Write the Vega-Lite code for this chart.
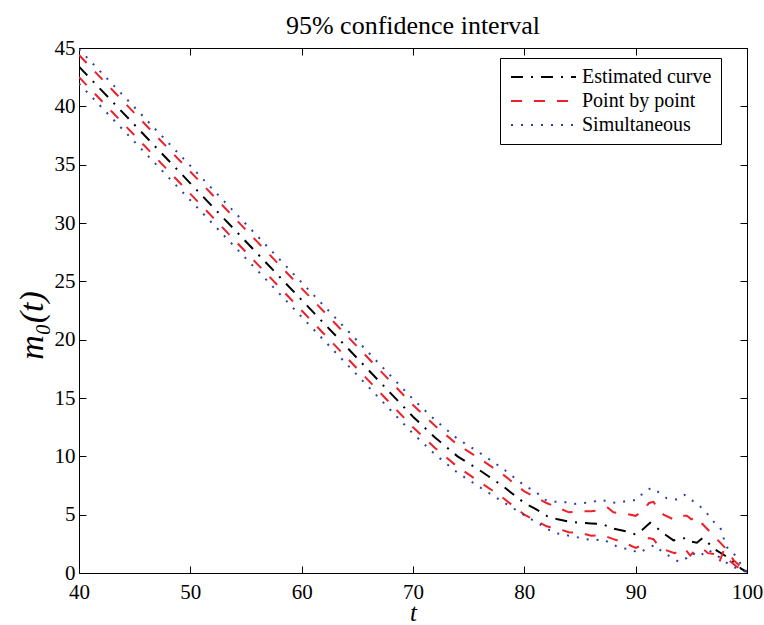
{
  "$schema": "https://vega.github.io/schema/vega-lite/v6.json",
  "width": 668,
  "height": 525,
  "autosize": {"type": "none"},
  "padding": {"left": 79, "top": 48, "right": 17, "bottom": 52},
  "config": {
    "font": "Liberation Serif",
    "view": {"stroke": "black", "strokeWidth": 1},
    "axis": {"grid": false, "domainColor": "black", "tickColor": "black", "tickWidth": 1, "labelColor": "black", "titleColor": "black", "labelFont": "Liberation Serif", "titleFont": "Liberation Serif"}
  },
  "title": {"text": "95% confidence interval", "fontSize": 26, "fontWeight": "normal", "font": "Liberation Serif", "color": "black", "anchor": "middle", "offset": -2},
  "datasets": {
    "curves": [
      {"t": 40, "v": 43.4, "band": "Estimated curve", "series": "est"},
      {"t": 44, "v": 39.4, "band": "Estimated curve", "series": "est"},
      {"t": 48, "v": 35.4, "band": "Estimated curve", "series": "est"},
      {"t": 52, "v": 31.4, "band": "Estimated curve", "series": "est"},
      {"t": 56, "v": 27.4, "band": "Estimated curve", "series": "est"},
      {"t": 60, "v": 23.4, "band": "Estimated curve", "series": "est"},
      {"t": 64, "v": 19.4, "band": "Estimated curve", "series": "est"},
      {"t": 68, "v": 15.4, "band": "Estimated curve", "series": "est"},
      {"t": 70, "v": 13.4, "band": "Estimated curve", "series": "est"},
      {"t": 72, "v": 11.6, "band": "Estimated curve", "series": "est"},
      {"t": 74, "v": 10.0, "band": "Estimated curve", "series": "est"},
      {"t": 76, "v": 8.8, "band": "Estimated curve", "series": "est"},
      {"t": 78, "v": 7.5, "band": "Estimated curve", "series": "est"},
      {"t": 80, "v": 6.0, "band": "Estimated curve", "series": "est"},
      {"t": 81, "v": 5.5, "band": "Estimated curve", "series": "est"},
      {"t": 82, "v": 4.9, "band": "Estimated curve", "series": "est"},
      {"t": 83, "v": 4.6, "band": "Estimated curve", "series": "est"},
      {"t": 84, "v": 4.4, "band": "Estimated curve", "series": "est"},
      {"t": 85, "v": 4.3, "band": "Estimated curve", "series": "est"},
      {"t": 86, "v": 4.25, "band": "Estimated curve", "series": "est"},
      {"t": 87, "v": 4.2, "band": "Estimated curve", "series": "est"},
      {"t": 88, "v": 3.8, "band": "Estimated curve", "series": "est"},
      {"t": 89, "v": 3.6, "band": "Estimated curve", "series": "est"},
      {"t": 90, "v": 3.3, "band": "Estimated curve", "series": "est"},
      {"t": 90.6, "v": 3.7, "band": "Estimated curve", "series": "est"},
      {"t": 91.3, "v": 4.3, "band": "Estimated curve", "series": "est"},
      {"t": 92, "v": 3.8, "band": "Estimated curve", "series": "est"},
      {"t": 92.5, "v": 3.4, "band": "Estimated curve", "series": "est"},
      {"t": 93.4, "v": 2.8, "band": "Estimated curve", "series": "est"},
      {"t": 94, "v": 2.9, "band": "Estimated curve", "series": "est"},
      {"t": 94.5, "v": 3.0, "band": "Estimated curve", "series": "est"},
      {"t": 95, "v": 2.7, "band": "Estimated curve", "series": "est"},
      {"t": 95.5, "v": 2.6, "band": "Estimated curve", "series": "est"},
      {"t": 96, "v": 3.0, "band": "Estimated curve", "series": "est"},
      {"t": 96.4, "v": 2.7, "band": "Estimated curve", "series": "est"},
      {"t": 97, "v": 2.1, "band": "Estimated curve", "series": "est"},
      {"t": 98, "v": 1.5, "band": "Estimated curve", "series": "est"},
      {"t": 98.5, "v": 1.2, "band": "Estimated curve", "series": "est"},
      {"t": 99, "v": 0.8, "band": "Estimated curve", "series": "est"},
      {"t": 99.5, "v": 0.35, "band": "Estimated curve", "series": "est"},
      {"t": 100, "v": 0.1, "band": "Estimated curve", "series": "est"},

      {"t": 40, "v": 44.4, "band": "Point by point", "series": "pu"},
      {"t": 44, "v": 40.4, "band": "Point by point", "series": "pu"},
      {"t": 48, "v": 36.4, "band": "Point by point", "series": "pu"},
      {"t": 52, "v": 32.4, "band": "Point by point", "series": "pu"},
      {"t": 56, "v": 28.4, "band": "Point by point", "series": "pu"},
      {"t": 60, "v": 24.4, "band": "Point by point", "series": "pu"},
      {"t": 64, "v": 20.4, "band": "Point by point", "series": "pu"},
      {"t": 68, "v": 16.4, "band": "Point by point", "series": "pu"},
      {"t": 70, "v": 14.4, "band": "Point by point", "series": "pu"},
      {"t": 72, "v": 12.6, "band": "Point by point", "series": "pu"},
      {"t": 74, "v": 11.0, "band": "Point by point", "series": "pu"},
      {"t": 76, "v": 9.8, "band": "Point by point", "series": "pu"},
      {"t": 78, "v": 8.5, "band": "Point by point", "series": "pu"},
      {"t": 80, "v": 7.0, "band": "Point by point", "series": "pu"},
      {"t": 81, "v": 6.5, "band": "Point by point", "series": "pu"},
      {"t": 82, "v": 6.0, "band": "Point by point", "series": "pu"},
      {"t": 83, "v": 5.6, "band": "Point by point", "series": "pu"},
      {"t": 84, "v": 5.2, "band": "Point by point", "series": "pu"},
      {"t": 85, "v": 5.3, "band": "Point by point", "series": "pu"},
      {"t": 86, "v": 5.3, "band": "Point by point", "series": "pu"},
      {"t": 87, "v": 5.4, "band": "Point by point", "series": "pu"},
      {"t": 87.5, "v": 5.6, "band": "Point by point", "series": "pu"},
      {"t": 88, "v": 5.2, "band": "Point by point", "series": "pu"},
      {"t": 89, "v": 5.1, "band": "Point by point", "series": "pu"},
      {"t": 90, "v": 4.9, "band": "Point by point", "series": "pu"},
      {"t": 90.6, "v": 5.3, "band": "Point by point", "series": "pu"},
      {"t": 91.2, "v": 6.0, "band": "Point by point", "series": "pu"},
      {"t": 91.6, "v": 6.1, "band": "Point by point", "series": "pu"},
      {"t": 92, "v": 5.5, "band": "Point by point", "series": "pu"},
      {"t": 92.5, "v": 5.0, "band": "Point by point", "series": "pu"},
      {"t": 93.4, "v": 4.6, "band": "Point by point", "series": "pu"},
      {"t": 94, "v": 4.9, "band": "Point by point", "series": "pu"},
      {"t": 94.6, "v": 4.9, "band": "Point by point", "series": "pu"},
      {"t": 95, "v": 4.6, "band": "Point by point", "series": "pu"},
      {"t": 95.5, "v": 4.8, "band": "Point by point", "series": "pu"},
      {"t": 96, "v": 4.2, "band": "Point by point", "series": "pu"},
      {"t": 96.7, "v": 3.5, "band": "Point by point", "series": "pu"},
      {"t": 97.4, "v": 2.8, "band": "Point by point", "series": "pu"},
      {"t": 98, "v": 2.2, "band": "Point by point", "series": "pu"},
      {"t": 98.8, "v": 1.1, "band": "Point by point", "series": "pu"},
      {"t": 99.6, "v": 0.4, "band": "Point by point", "series": "pu"},
      {"t": 100, "v": 0.1, "band": "Point by point", "series": "pu"},

      {"t": 40, "v": 42.5, "band": "Point by point", "series": "pl"},
      {"t": 44, "v": 38.5, "band": "Point by point", "series": "pl"},
      {"t": 48, "v": 34.5, "band": "Point by point", "series": "pl"},
      {"t": 52, "v": 30.5, "band": "Point by point", "series": "pl"},
      {"t": 56, "v": 26.5, "band": "Point by point", "series": "pl"},
      {"t": 60, "v": 22.5, "band": "Point by point", "series": "pl"},
      {"t": 64, "v": 18.5, "band": "Point by point", "series": "pl"},
      {"t": 68, "v": 14.5, "band": "Point by point", "series": "pl"},
      {"t": 70, "v": 12.5, "band": "Point by point", "series": "pl"},
      {"t": 72, "v": 10.7, "band": "Point by point", "series": "pl"},
      {"t": 74, "v": 9.1, "band": "Point by point", "series": "pl"},
      {"t": 76, "v": 7.8, "band": "Point by point", "series": "pl"},
      {"t": 78, "v": 6.5, "band": "Point by point", "series": "pl"},
      {"t": 80, "v": 5.0, "band": "Point by point", "series": "pl"},
      {"t": 81, "v": 4.5, "band": "Point by point", "series": "pl"},
      {"t": 82, "v": 4.0, "band": "Point by point", "series": "pl"},
      {"t": 83, "v": 3.8, "band": "Point by point", "series": "pl"},
      {"t": 84, "v": 3.5, "band": "Point by point", "series": "pl"},
      {"t": 85, "v": 3.45, "band": "Point by point", "series": "pl"},
      {"t": 86, "v": 3.2, "band": "Point by point", "series": "pl"},
      {"t": 87, "v": 3.25, "band": "Point by point", "series": "pl"},
      {"t": 88, "v": 2.9, "band": "Point by point", "series": "pl"},
      {"t": 89, "v": 2.6, "band": "Point by point", "series": "pl"},
      {"t": 90, "v": 2.15, "band": "Point by point", "series": "pl"},
      {"t": 90.6, "v": 2.4, "band": "Point by point", "series": "pl"},
      {"t": 91.2, "v": 3.0, "band": "Point by point", "series": "pl"},
      {"t": 91.6, "v": 2.9, "band": "Point by point", "series": "pl"},
      {"t": 92, "v": 2.4, "band": "Point by point", "series": "pl"},
      {"t": 92.6, "v": 2.0, "band": "Point by point", "series": "pl"},
      {"t": 93.5, "v": 1.7, "band": "Point by point", "series": "pl"},
      {"t": 94.4, "v": 2.1, "band": "Point by point", "series": "pl"},
      {"t": 94.9, "v": 1.5, "band": "Point by point", "series": "pl"},
      {"t": 95.3, "v": 1.9, "band": "Point by point", "series": "pl"},
      {"t": 96, "v": 2.1, "band": "Point by point", "series": "pl"},
      {"t": 96.5, "v": 1.7, "band": "Point by point", "series": "pl"},
      {"t": 97.2, "v": 1.6, "band": "Point by point", "series": "pl"},
      {"t": 97.5, "v": 0.9, "band": "Point by point", "series": "pl"},
      {"t": 97.9, "v": 1.9, "band": "Point by point", "series": "pl"},
      {"t": 98.5, "v": 1.0, "band": "Point by point", "series": "pl"},
      {"t": 99, "v": 0.6, "band": "Point by point", "series": "pl"},
      {"t": 99.5, "v": 0.3, "band": "Point by point", "series": "pl"},
      {"t": 100, "v": 0.0, "band": "Point by point", "series": "pl"},

      {"t": 40, "v": 44.9, "band": "Simultaneous", "series": "su"},
      {"t": 44, "v": 40.9, "band": "Simultaneous", "series": "su"},
      {"t": 48, "v": 36.9, "band": "Simultaneous", "series": "su"},
      {"t": 52, "v": 32.9, "band": "Simultaneous", "series": "su"},
      {"t": 56, "v": 28.9, "band": "Simultaneous", "series": "su"},
      {"t": 60, "v": 24.9, "band": "Simultaneous", "series": "su"},
      {"t": 64, "v": 20.9, "band": "Simultaneous", "series": "su"},
      {"t": 68, "v": 16.9, "band": "Simultaneous", "series": "su"},
      {"t": 70, "v": 14.9, "band": "Simultaneous", "series": "su"},
      {"t": 72, "v": 13.1, "band": "Simultaneous", "series": "su"},
      {"t": 74, "v": 11.5, "band": "Simultaneous", "series": "su"},
      {"t": 76, "v": 10.3, "band": "Simultaneous", "series": "su"},
      {"t": 78, "v": 9.0, "band": "Simultaneous", "series": "su"},
      {"t": 80, "v": 7.5, "band": "Simultaneous", "series": "su"},
      {"t": 81.1, "v": 6.9, "band": "Simultaneous", "series": "su"},
      {"t": 81.8, "v": 6.3, "band": "Simultaneous", "series": "su"},
      {"t": 82.6, "v": 6.1, "band": "Simultaneous", "series": "su"},
      {"t": 83.5, "v": 6.1, "band": "Simultaneous", "series": "su"},
      {"t": 84.4, "v": 5.9, "band": "Simultaneous", "series": "su"},
      {"t": 85.3, "v": 6.0, "band": "Simultaneous", "series": "su"},
      {"t": 86.2, "v": 6.1, "band": "Simultaneous", "series": "su"},
      {"t": 86.9, "v": 6.3, "band": "Simultaneous", "series": "su"},
      {"t": 87.5, "v": 6.1, "band": "Simultaneous", "series": "su"},
      {"t": 88.4, "v": 6.0, "band": "Simultaneous", "series": "su"},
      {"t": 89.3, "v": 6.2, "band": "Simultaneous", "series": "su"},
      {"t": 90.1, "v": 6.25, "band": "Simultaneous", "series": "su"},
      {"t": 90.7, "v": 6.9, "band": "Simultaneous", "series": "su"},
      {"t": 91.4, "v": 7.3, "band": "Simultaneous", "series": "su"},
      {"t": 92.1, "v": 6.9, "band": "Simultaneous", "series": "su"},
      {"t": 92.8, "v": 6.4, "band": "Simultaneous", "series": "su"},
      {"t": 93.7, "v": 6.3, "band": "Simultaneous", "series": "su"},
      {"t": 94.4, "v": 6.7, "band": "Simultaneous", "series": "su"},
      {"t": 95.1, "v": 6.2, "band": "Simultaneous", "series": "su"},
      {"t": 95.8, "v": 5.7, "band": "Simultaneous", "series": "su"},
      {"t": 96.5, "v": 5.0, "band": "Simultaneous", "series": "su"},
      {"t": 97.0, "v": 4.4, "band": "Simultaneous", "series": "su"},
      {"t": 97.6, "v": 3.9, "band": "Simultaneous", "series": "su"},
      {"t": 97.9, "v": 3.0, "band": "Simultaneous", "series": "su"},
      {"t": 98.2, "v": 2.2, "band": "Simultaneous", "series": "su"},
      {"t": 98.8, "v": 1.7, "band": "Simultaneous", "series": "su"},
      {"t": 99.2, "v": 1.1, "band": "Simultaneous", "series": "su"},
      {"t": 99.7, "v": 0.4, "band": "Simultaneous", "series": "su"},
      {"t": 100, "v": 0.1, "band": "Simultaneous", "series": "su"},

      {"t": 40, "v": 41.95, "band": "Simultaneous", "series": "sl"},
      {"t": 44, "v": 37.95, "band": "Simultaneous", "series": "sl"},
      {"t": 48, "v": 33.95, "band": "Simultaneous", "series": "sl"},
      {"t": 52, "v": 29.95, "band": "Simultaneous", "series": "sl"},
      {"t": 56, "v": 25.95, "band": "Simultaneous", "series": "sl"},
      {"t": 60, "v": 21.95, "band": "Simultaneous", "series": "sl"},
      {"t": 64, "v": 17.95, "band": "Simultaneous", "series": "sl"},
      {"t": 68, "v": 13.95, "band": "Simultaneous", "series": "sl"},
      {"t": 70, "v": 11.95, "band": "Simultaneous", "series": "sl"},
      {"t": 72, "v": 10.15, "band": "Simultaneous", "series": "sl"},
      {"t": 74, "v": 8.6, "band": "Simultaneous", "series": "sl"},
      {"t": 76, "v": 7.35, "band": "Simultaneous", "series": "sl"},
      {"t": 78, "v": 6.15, "band": "Simultaneous", "series": "sl"},
      {"t": 80, "v": 4.95, "band": "Simultaneous", "series": "sl"},
      {"t": 81.2, "v": 4.3, "band": "Simultaneous", "series": "sl"},
      {"t": 82.0, "v": 3.8, "band": "Simultaneous", "series": "sl"},
      {"t": 82.9, "v": 3.4, "band": "Simultaneous", "series": "sl"},
      {"t": 83.7, "v": 3.25, "band": "Simultaneous", "series": "sl"},
      {"t": 84.6, "v": 3.1, "band": "Simultaneous", "series": "sl"},
      {"t": 85.5, "v": 2.9, "band": "Simultaneous", "series": "sl"},
      {"t": 86.3, "v": 2.8, "band": "Simultaneous", "series": "sl"},
      {"t": 87.1, "v": 2.9, "band": "Simultaneous", "series": "sl"},
      {"t": 87.8, "v": 2.5, "band": "Simultaneous", "series": "sl"},
      {"t": 88.6, "v": 2.15, "band": "Simultaneous", "series": "sl"},
      {"t": 89.5, "v": 2.05, "band": "Simultaneous", "series": "sl"},
      {"t": 90.3, "v": 1.7, "band": "Simultaneous", "series": "sl"},
      {"t": 91.0, "v": 2.1, "band": "Simultaneous", "series": "sl"},
      {"t": 91.7, "v": 2.4, "band": "Simultaneous", "series": "sl"},
      {"t": 92.4, "v": 1.8, "band": "Simultaneous", "series": "sl"},
      {"t": 93.1, "v": 1.4, "band": "Simultaneous", "series": "sl"},
      {"t": 93.9, "v": 0.95, "band": "Simultaneous", "series": "sl"},
      {"t": 94.6, "v": 1.3, "band": "Simultaneous", "series": "sl"},
      {"t": 95.1, "v": 1.7, "band": "Simultaneous", "series": "sl"},
      {"t": 95.7, "v": 1.4, "band": "Simultaneous", "series": "sl"},
      {"t": 96.5, "v": 2.0, "band": "Simultaneous", "series": "sl"},
      {"t": 97.6, "v": 1.3, "band": "Simultaneous", "series": "sl"},
      {"t": 98.7, "v": 0.5, "band": "Simultaneous", "series": "sl"},
      {"t": 99.4, "v": 0.4, "band": "Simultaneous", "series": "sl"},
      {"t": 100, "v": 0.0, "band": "Simultaneous", "series": "sl"}
    ]
  },
  "data": {"name": "curves"},
  "layer": [
    {
      "mark": {"type": "line", "strokeWidth": 2, "clip": true},
      "encoding": {
        "x": {"field": "t", "type": "quantitative", "scale": {"domain": [40, 100], "nice": false, "zero": false},
          "axis": {"orient": "bottom", "values": [40, 50, 60, 70, 80, 90, 100], "tickSize": -7, "labelPadding": 15, "labelFontSize": 21, "labelFlush": false, "title": "t", "titleFontStyle": "italic", "titleFontWeight": "normal", "titleFontSize": 25, "titlePadding": -2}},
        "y": {"field": "v", "type": "quantitative", "scale": {"domain": [0, 45], "nice": false, "zero": false},
          "axis": {"orient": "left", "values": [0, 5, 10, 15, 20, 25, 30, 35, 40, 45], "tickSize": -7, "labelPadding": 11, "labelFontSize": 21, "labelFlush": false, "title": "m₀(t)", "titleFontStyle": "italic", "titleFontWeight": "normal", "titleFontSize": 34, "titlePadding": 5, "titleY": 277}},
        "color": {"field": "band", "type": "nominal",
          "scale": {"domain": ["Estimated curve", "Point by point", "Simultaneous"], "range": ["#000000", "#ee2028", "#2e3ea8"]},
          "legend": {"title": null, "orient": "none", "legendX": 421, "legendY": 10, "symbolType": "M-1.6,0H11.4", "symbolSize": 100, "symbolStrokeWidth": 2, "labelFontSize": 20, "labelFont": "Liberation Serif", "labelColor": "black", "labelOffset": 53, "rowPadding": 4, "padding": 9, "strokeColor": "black", "fillColor": "white"}},
        "strokeDash": {"field": "band", "type": "nominal",
          "scale": {"domain": ["Estimated curve", "Point by point", "Simultaneous"], "range": [[12, 8, 2, 8], [11, 12], [2, 8]]},
          "legend": {"title": null, "orient": "none", "legendX": 421, "legendY": 10, "symbolType": "M-1.6,0H11.4", "symbolSize": 100, "symbolStrokeWidth": 2, "labelFontSize": 20, "labelFont": "Liberation Serif", "labelColor": "black", "labelOffset": 53, "rowPadding": 4, "padding": 9, "strokeColor": "black", "fillColor": "white"}},
        "detail": {"field": "series", "type": "nominal"}
      }
    },
    {
      "mark": {"type": "line", "opacity": 0},
      "encoding": {
        "x": {"field": "t", "type": "quantitative", "axis": {"orient": "top", "values": [40, 50, 60, 70, 80, 90, 100], "tickSize": -7, "labels": false, "title": null}},
        "y": {"field": "v", "type": "quantitative", "axis": {"orient": "right", "values": [0, 5, 10, 15, 20, 25, 30, 35, 40, 45], "tickSize": -7, "labels": false, "title": null}},
        "detail": {"field": "series", "type": "nominal"}
      }
    }
  ],
  "resolve": {"axis": {"x": "independent", "y": "independent"}}
}
